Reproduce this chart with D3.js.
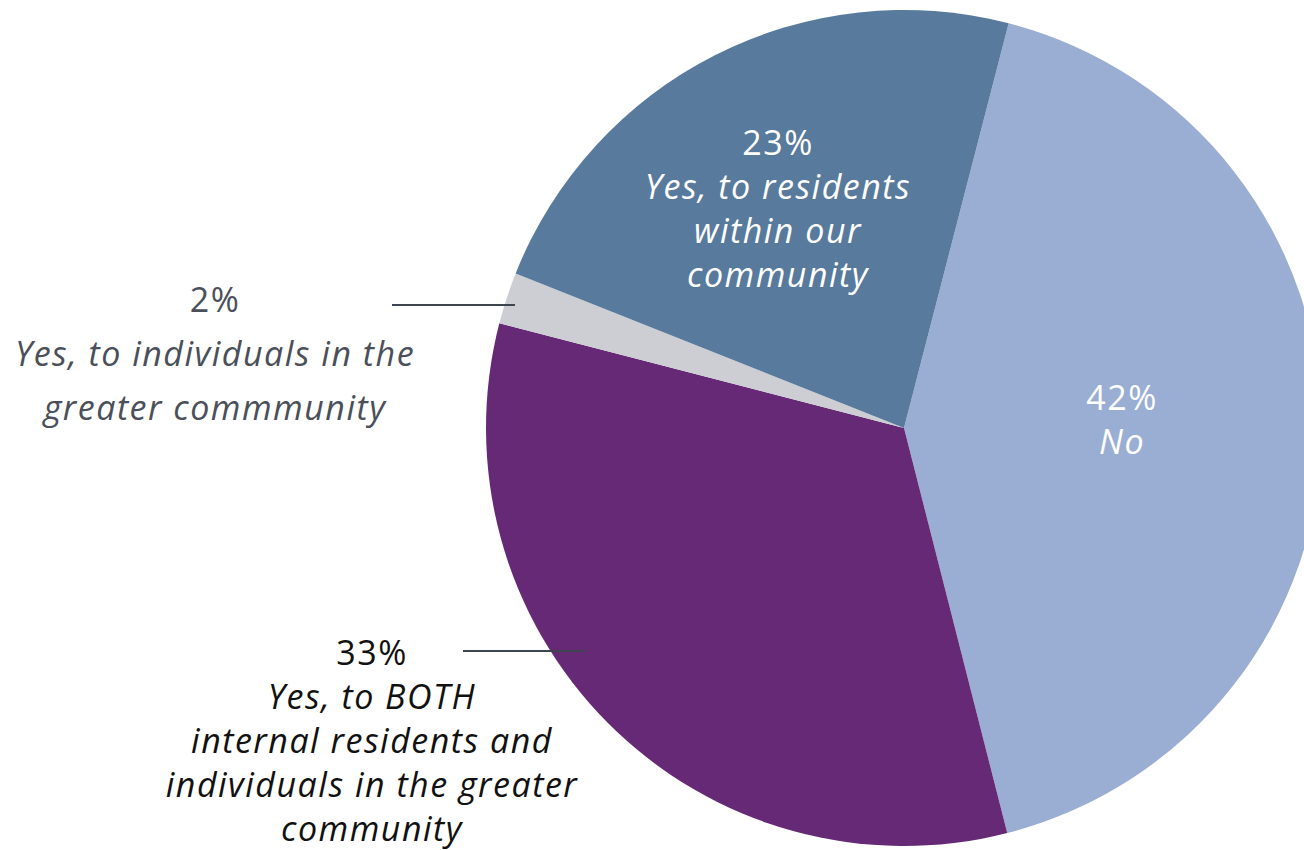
<!DOCTYPE html>
<html>
<head>
<meta charset="utf-8">
<script src="https://cdn.jsdelivr.net/npm/d3@7"></script>
<style>
html,body{margin:0;padding:0;background:#fff;}
svg{display:block;}
text{font-family:"Open Sans",Lato,sans-serif;font-weight:400;}
</style>
</head>
<body>
<svg id="chart" width="1304" height="850"></svg>
<script>
// Data
const categories = ["No", "Yes, to BOTH internal residents and individuals in the greater community", "Yes, to individuals in the greater commmunity", "Yes, to residents within our community"];
const values = [42, 33, 2, 23];
const percentLabels = ["42%", "33%", "2%", "23%"];
const labelLines = [
  ["No"],
  ["Yes, to BOTH", "internal residents and", "individuals in the greater", "community"],
  ["Yes, to individuals in the", "greater commmunity"],
  ["Yes, to residents", "within our", "community"]
];
const sliceColors = ["#9AAED4", "#662975", "#CDCED3", "#587A9C"];

// Layout
const cx = 904, cy = 428, R = 418;
const startDeg = 14.5;
const labelLayout = [
  {x: 1122, y: 398, dy: 44, fill: "#ffffff"},
  {x: 372, y: 653, dy: 44, fill: "#111111", line: [463, 585, 651]},
  {x: 215, y: 300, dy: 54, fill: "#4a4f5a", line: [392, 515, 305]},
  {x: 778, y: 143, dy: 44, fill: "#ffffff"}
];
const fontSize = 34;

const svg = d3.select("#chart");
const g = svg.append("g").attr("transform", `translate(${cx},${cy})`);

const pie = d3.pie().sort(null).value(d => d)
  .startAngle(startDeg * Math.PI / 180)
  .endAngle(startDeg * Math.PI / 180 + 2 * Math.PI);
const arc = d3.arc().innerRadius(0).outerRadius(R);
const arcs = pie(values);

g.selectAll("path").data(arcs).enter().append("path")
  .attr("d", arc)
  .attr("fill", (d, i) => sliceColors[i]);

// leader lines
labelLayout.forEach(l => {
  if (l.line) {
    svg.append("line")
      .attr("x1", l.line[0]).attr("x2", l.line[1])
      .attr("y1", l.line[2]).attr("y2", l.line[2])
      .attr("stroke", "#3f4550").attr("stroke-width", 2);
  }
});

// labels
arcs.forEach((a, i) => {
  const l = labelLayout[i];
  const t = svg.append("text")
    .attr("text-anchor", "middle")
    .attr("fill", l.fill)
    .attr("font-size", fontSize)
    .attr("letter-spacing", 1.5);
  t.append("tspan").attr("x", l.x).attr("y", l.y).attr("dy", "0.35em")
    .text(percentLabels[i]);
  labelLines[i].forEach((s, j) => {
    t.append("tspan").attr("x", l.x).attr("y", l.y + (j + 1) * l.dy).attr("dy", "0.35em")
      .attr("font-style", "italic").text(s);
  });
});
</script>
</body>
</html>
